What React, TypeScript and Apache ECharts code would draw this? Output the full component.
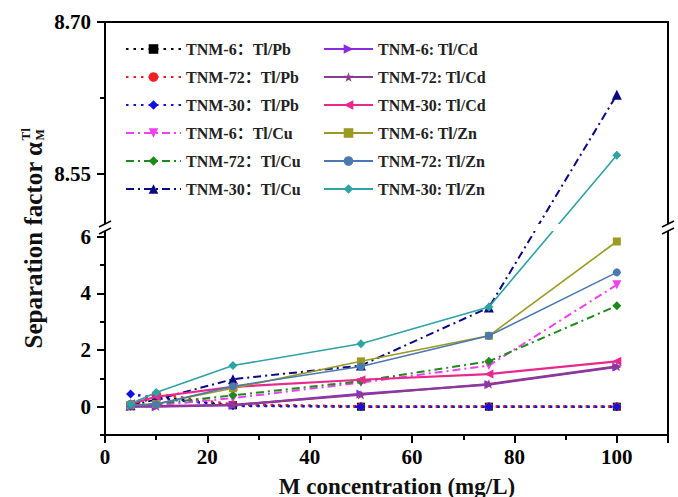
import React, { useEffect, useRef } from "react";
import * as echarts from "echarts";

// ---------- data ----------
const xValues = [5, 10, 25, 50, 75, 100];

const pb6 = [0.05, 0.35, 0.05, 0.0, 0.0, 0.0];
const pb72 = [0.1, 0.45, 0.08, 0.01, 0.01, 0.01];
const pb30 = [0.45, 0.3, 0.03, 0.0, 0.0, 0.0];
const cu6 = [0.0, 0.05, 0.3, 0.85, 1.45, 4.3];
const cu72 = [0.05, 0.1, 0.4, 0.9, 1.6, 3.56];
const cu30 = [0.05, 0.25, 0.97, 1.45, 3.5, 8.628];
const cd6 = [0.0, 0.0, 0.05, 0.45, 0.78, 1.4];
const cd72 = [0.02, 0.02, 0.06, 0.42, 0.8, 1.42];
const cd30 = [0.1, 0.35, 0.7, 0.95, 1.15, 1.6];
const zn6 = [0.05, 0.1, 0.65, 1.6, 2.5, 5.83];
const zn72 = [0.05, 0.08, 0.72, 1.42, 2.5, 4.74];
const zn30 = [0.1, 0.5, 1.45, 2.22, 3.52, 8.568];

const names = [
  "TNM-6：Tl/Pb", "TNM-72：Tl/Pb", "TNM-30：Tl/Pb",
  "TNM-6：Tl/Cu", "TNM-72：Tl/Cu", "TNM-30：Tl/Cu",
  "TNM-6: Tl/Cd", "TNM-72: Tl/Cd", "TNM-30: Tl/Cd",
  "TNM-6: Tl/Zn", "TNM-72: Tl/Zn", "TNM-30: Tl/Zn",
];
const values = [pb6, pb72, pb30, cu6, cu72, cu30, cd6, cd72, cd30, zn6, zn72, zn30];

// y-axis segments (broken axis)
const lowerRange = [-1, 6.2];
const upperRange = [8.5, 8.7];
const lowerMajor = [0, 2, 4, 6];
const lowerMinor = [-1, 1, 3, 5];
const upperMajor = [8.55, 8.7];
const upperMinor = [8.625];
const upperLabels = ["8.55", "8.70"];

// ---------- layout / styles ----------
const W = 678, H = 497;
const GL = 105, GR = 10, GT = 22, GB = 62;
const LOWER_H = 204, GAP_H = 7, UPPER_H = 202;
const TOTAL = LOWER_H + GAP_H + UPPER_H;

function toDisplay(v: number): number {
  if (v <= lowerRange[1] + 0.5) {
    return ((v - lowerRange[0]) / (lowerRange[1] - lowerRange[0])) * LOWER_H;
  }
  return LOWER_H + GAP_H + ((v - upperRange[0]) / (upperRange[1] - upperRange[0])) * UPPER_H;
}

const DOT = [2.5, 5];
const DASHDOT = [8, 4, 2, 4];
const STAR = "path://M0,-10L2.35,-3.24L9.51,-3.09L3.8,1.24L5.88,8.09L0,4L-5.88,8.09L-3.8,1.24L-9.51,-3.09L-2.35,-3.24Z";

const styles = [
  { color: "#000000", dash: DOT, width: 2.5, symbol: "rect", rot: 0, size: 8 },
  { color: "#ee2020", dash: DOT, width: 2.5, symbol: "circle", rot: 0, size: 8 },
  { color: "#1010e0", dash: DOT, width: 2.5, symbol: "diamond", rot: 0, size: 9 },
  { color: "#f040f0", dash: DASHDOT, width: 2, symbol: "triangle", rot: 180, size: 9 },
  { color: "#1e8a1e", dash: DASHDOT, width: 2, symbol: "diamond", rot: 0, size: 9 },
  { color: "#0a0a80", dash: DASHDOT, width: 2, symbol: "triangle", rot: 0, size: 10 },
  { color: "#8a2be2", dash: "solid", width: 2.2, symbol: "triangle", rot: -90, size: 9 },
  { color: "#8e3a8e", dash: "solid", width: 2.2, symbol: STAR, rot: 0, size: 10 },
  { color: "#e8288c", dash: "solid", width: 2.2, symbol: "triangle", rot: 90, size: 9 },
  { color: "#9c9a22", dash: "solid", width: 1.6, symbol: "rect", rot: 0, size: 8 },
  { color: "#4a78b0", dash: "solid", width: 1.6, symbol: "circle", rot: 0, size: 8 },
  { color: "#2ea3a3", dash: "solid", width: 1.6, symbol: "diamond", rot: 0, size: 9 },
];

const FONT = '"Liberation Serif", "Noto Sans CJK SC", "Times New Roman", serif';

function measure(text: string, font: string): number {
  const c = document.createElement("canvas").getContext("2d");
  if (!c) return text.length * 10;
  c.font = font;
  return c.measureText(text).width;
}

export default function App() {
  const ref = useRef<HTMLDivElement>(null);
  useEffect(() => {
    if (!ref.current) return;
    const chart = echarts.init(ref.current, null, { renderer: "svg", width: W, height: H });

    const labelPairs: [number, string][] = [
      ...lowerMajor.map((v) => [toDisplay(v), String(v)] as [number, string]),
      ...upperMajor.map((v, i) => [toDisplay(v), upperLabels[i]] as [number, string]),
    ];
    const majorTicks = labelPairs.map((p) => p[0]);
    const minorTicks = [...lowerMinor, ...upperMinor].map(toDisplay);

    const series = names.map((name, i) => ({
      name,
      type: "line",
      data: xValues.map((x, j) => [x, toDisplay(values[i][j])]),
      symbol: styles[i].symbol,
      symbolSize: styles[i].size,
      symbolRotate: styles[i].rot,
      symbolKeepAspect: true,
      lineStyle: { color: styles[i].color, width: styles[i].width, type: styles[i].dash },
      itemStyle: { color: styles[i].color },
      z: 2 + i * 0.01,
    }));

    const yTitleFont = `bold 25px ${FONT}`;
    const yTitle = "Separation factor α";
    const yw = measure(yTitle, yTitleFont);
    const totalLen = yw + 14;
    const yCenter = 238;

    const gapTop = GT + (TOTAL - LOWER_H - GAP_H);
    const gapBottom = GT + (TOTAL - LOWER_H);
    const rightX = W - GR;

    const breakMarks = (X: number) => [
      { type: "line", z: 101, shape: { x1: X - 6, y1: gapBottom + 3, x2: X + 6, y2: gapBottom - 3 }, style: { stroke: "#000", lineWidth: 1.5 } },
      { type: "line", z: 101, shape: { x1: X - 6, y1: gapTop + 3, x2: X + 6, y2: gapTop - 3 }, style: { stroke: "#000", lineWidth: 1.5 } },
    ];

    chart.setOption({
      animation: false,
      backgroundColor: "#fff",
      grid: { left: GL, right: GR, top: GT, bottom: GB, show: true, borderColor: "#000", borderWidth: 2, backgroundColor: "transparent" },
      xAxis: {
        type: "value", min: 0, max: 110, interval: 20,
        axisLine: { lineStyle: { color: "#000", width: 2 } },
        axisTick: { length: 8, lineStyle: { color: "#000", width: 2 } },
        minorTick: { show: true, splitNumber: 2, length: 5, lineStyle: { color: "#000", width: 2 } },
        splitLine: { show: false },
        axisLabel: { color: "#000", fontFamily: FONT, fontWeight: "bold", fontSize: 21, margin: 11, showMaxLabel: false },
      },
      yAxis: [
        {
          type: "value", min: 0, max: TOTAL,
          axisLine: { show: true, lineStyle: { color: "#000", width: 2 } },
          axisTick: { show: true, length: 8, customValues: majorTicks, lineStyle: { color: "#000", width: 2 } },
          splitLine: { show: false },
          axisLabel: {
            customValues: majorTicks,
            color: "#000", fontFamily: FONT, fontWeight: "bold", fontSize: 21, margin: 14,
            formatter: (v: number) => {
              const p = labelPairs.find((q) => Math.abs(q[0] - v) < 1e-6);
              return p ? p[1] : "";
            },
          },
        },
        {
          type: "value", min: 0, max: TOTAL, position: "left",
          axisLine: { show: false },
          axisTick: { show: true, length: 5, customValues: minorTicks, lineStyle: { color: "#000", width: 2 } },
          splitLine: { show: false },
          axisLabel: { show: false },
        },
      ],
      legend: [
        {
          data: names.slice(0, 6), orient: "vertical", left: 120, top: 35,
          itemWidth: 55, itemHeight: 12, itemGap: 10,
          textStyle: { fontFamily: FONT, fontWeight: "bold", fontSize: 16, color: "#222", lineHeight: 18 },
          selectedMode: false,
        },
        {
          data: names.slice(6), orient: "vertical", left: 318, top: 35,
          itemWidth: 49, itemHeight: 12, itemGap: 10,
          textStyle: { fontFamily: FONT, fontWeight: "bold", fontSize: 16, color: "#222", lineHeight: 18 },
          selectedMode: false,
        },
      ],
      series,
      graphic: [
        { type: "rect", z: 100, shape: { x: GL - 4, y: gapTop, width: rightX - GL + 8, height: gapBottom - gapTop }, style: { fill: "#fff" } },
        ...breakMarks(GL),
        ...breakMarks(rightX),
        {
          type: "text", z: 100, x: 397, y: 486,
          style: { text: "M concentration (mg/L)", font: `bold 23px ${FONT}`, fill: "#111", textAlign: "center", textVerticalAlign: "middle" },
        },
        {
          type: "group", x: 33, y: yCenter + totalLen / 2, rotation: Math.PI / 2, z: 100,
          children: [
            { type: "text", x: 0, y: 0, style: { text: yTitle, font: yTitleFont, fill: "#111", textAlign: "left", textVerticalAlign: "middle" } },
            { type: "text", x: yw + 1, y: -8, style: { text: "Tl", font: `bold 13px ${FONT}`, fill: "#111", textAlign: "left", textVerticalAlign: "middle" } },
            { type: "text", x: yw + 1, y: 7, style: { text: "M", font: `bold 12px ${FONT}`, fill: "#111", textAlign: "left", textVerticalAlign: "middle" } },
          ],
        },
      ],
    });
    return () => chart.dispose();
  }, []);
  return <div ref={ref} style={{ position: "fixed", left: 0, top: 0, width: W, height: H }} />;
}
